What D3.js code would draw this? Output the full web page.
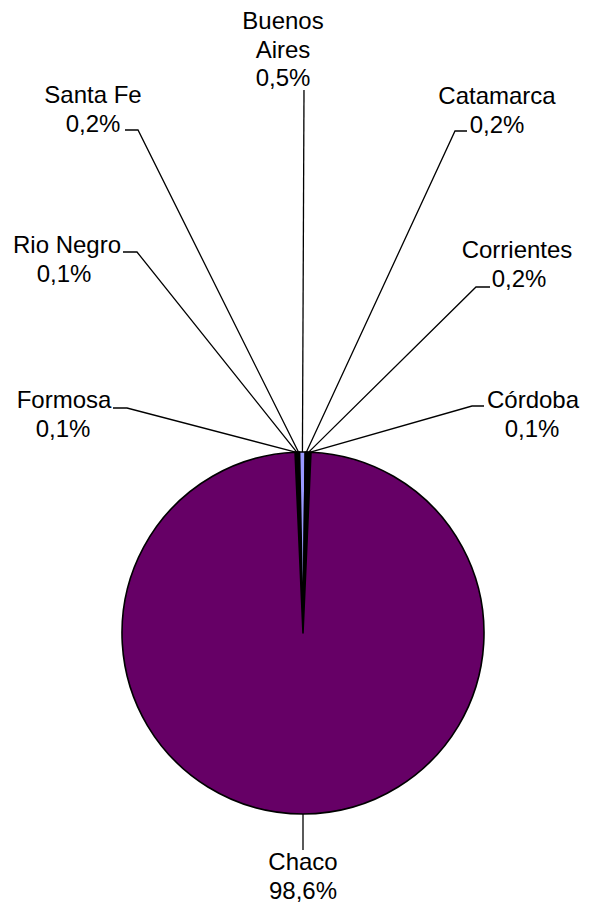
<!DOCTYPE html>
<html><head><meta charset="utf-8">
<script src="https://cdn.jsdelivr.net/npm/d3@7"></script>
<style>html,body{margin:0;padding:0;background:#fff;}</style>
</head><body>
<svg id="c" width="589" height="904"></svg>
<script>
// Data (clockwise order after the Chaco slice)
const categories = ["Formosa", "Rio Negro", "Santa Fe", "Buenos Aires", "Catamarca", "Corrientes", "Córdoba", "Chaco"];
const values = [0.1, 0.1, 0.2, 0.5, 0.2, 0.2, 0.1, 98.6];
const valueLabels = ["0,1%", "0,1%", "0,2%", "0,5%", "0,2%", "0,2%", "0,1%", "98,6%"];
const nameLines = [["Formosa"], ["Rio Negro"], ["Santa Fe"], ["Buenos", "Aires"], ["Catamarca"], ["Corrientes"], ["Córdoba"], ["Chaco"]];
const colors = ["#000000", "#000000", "#000000", "#9999FF", "#000000", "#000000", "#000000", "#660066"];

// Layout of hand-placed labels: text centre x, first baseline y, leader start and elbow
const labelLayout = [
  {x: 64,  y: 408, lines: [{dx: 0}, {dx: -1}], lead: [[113, 408], [127, 408]]},
  {x: 67,  y: 253, lines: [{dx: 0}, {dx: -3}], lead: [[123, 252], [137, 252]]},
  {x: 93,  y: 103, lines: [{dx: 0}, {dx: 0}], lead: [[125, 130], [138, 130]]},
  {x: 283, y: 29,  lines: [{dx: 0}, {dx: 0}, {dx: 0}], lead: [[304, 90], [304, 90]]},
  {x: 497, y: 104, lines: [{dx: 0}, {dx: 0}], lead: [[467, 131], [455, 131]]},
  {x: 517, y: 258, lines: [{dx: 0}, {dx: 2}], lead: [[490, 287], [476, 287]]},
  {x: 533, y: 408, lines: [{dx: 0}, {dx: -1}], lead: [[484, 406], [472, 406]]},
  {x: 303, y: 870, lines: [{dx: 0}, {dx: 0}], lead: [[303, 850], [303, 850]]}
];

const cx = 303, cy = 633, R = 181;
const svg = d3.select("#c");
const g = svg.append("g").attr("transform", `translate(${cx},${cy})`);

const total = d3.sum(values);
const before = d3.sum(values.slice(0, values.length - 1));
const start = Math.PI - (before + values[values.length - 1] / 2) / total * 2 * Math.PI;

const pie = d3.pie().sort(null).value(d => d).startAngle(start).endAngle(start + 2 * Math.PI);
const arcs = pie(values);
const arc = d3.arc().innerRadius(0).outerRadius(R);

g.selectAll("path.slice").data(arcs).join("path")
  .attr("class", "slice")
  .attr("d", arc)
  .attr("fill", (d, i) => colors[i])
  .attr("stroke", "#000")
  .attr("stroke-width", 1.6)
  .attr("stroke-linejoin", "round");

// leader lines
const edge = d => {
  const a = (d.startAngle + d.endAngle) / 2;
  return [cx + R * Math.sin(a), cy - R * Math.cos(a)];
};
const line = d3.line();
svg.selectAll("path.lead").data(arcs).join("path")
  .attr("class", "lead")
  .attr("d", (d, i) => {
    const L = labelLayout[i].lead;
    return line([L[0], L[1], edge(d)]);
  })
  .attr("fill", "none").attr("stroke", "#000").attr("stroke-width", 1.3);

// labels
const lbl = svg.selectAll("text.lbl").data(arcs).join("text")
  .attr("class", "lbl")
  .attr("font-family", "'Liberation Sans', Arial, sans-serif")
  .attr("font-size", 24)
  .attr("fill", "#000")
  .attr("text-anchor", "middle");
lbl.each(function(d, i) {
  const t = d3.select(this);
  const lay = labelLayout[i];
  const ls = nameLines[i].concat([valueLabels[i]]);
  ls.forEach((s, k) => {
    const dx = (lay.lines[k] || {dx: 0}).dx;
    t.append("tspan").attr("x", lay.x + dx).attr("y", lay.y + k * 28.5).text(s);
  });
});
</script>
</body></html>
